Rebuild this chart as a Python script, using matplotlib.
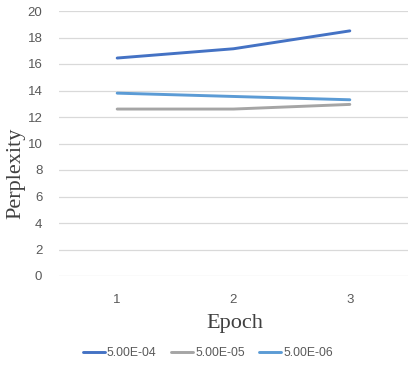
import matplotlib
matplotlib.use("Agg")
import matplotlib.pyplot as plt
import numpy as np

epochs = [1, 2, 3]
lr_5e4 = [16.45, 17.15, 18.5]
lr_5e5 = [12.6, 12.6, 12.95]
lr_5e6 = [13.8, 13.55, 13.3]
labels = ["5.00E-04", "5.00E-05", "5.00E-06"]
colors = ["#4472C4", "#A5A5A5", "#5B9BD5"]


def main():
    fig = plt.figure(figsize=(4.08, 3.66), dpi=100)
    ax = fig.add_axes([59 / 408, 1 - 276 / 366, 1 - 59 / 408, 265 / 366])

    for ys, lab, c in zip([lr_5e4, lr_5e5, lr_5e6], labels, colors):
        ax.plot(epochs, ys, color=c, lw=2.1, label=lab, solid_capstyle="round")

    ax.set_ylim(0, 20)
    ax.set_xlim(0.5, 3.5)
    ax.set_yticks(np.arange(0, 21, 2))
    ax.set_xticks(epochs)
    ax.grid(axis="y", color="#D9D9D9", lw=0.9)
    ax.set_axisbelow(True)
    for s in ax.spines.values():
        s.set_visible(False)
    ax.tick_params(length=0, colors="#595959", labelsize=9.5, pad=12)
    ax.tick_params(axis="x", pad=13)
    for t in ax.get_xticklabels() + ax.get_yticklabels():
        t.set_family("Liberation Sans")

    ax.set_ylabel("Perplexity", family="Liberation Serif", fontsize=16,
                  color="#404040")
    ax.yaxis.set_label_coords(-0.096, 0.387)
    ax.set_xlabel("Epoch", family="Liberation Serif", fontsize=16,
                  color="#404040")
    ax.xaxis.set_label_coords(0.503, -0.142)

    leg = fig.legend(loc="center", bbox_to_anchor=(208 / 408, 1 - 353 / 366),
                     ncol=3, frameon=False, fontsize=8.8, handlelength=1.8,
                     handletextpad=0.15, columnspacing=1.2)
    for t in leg.get_texts():
        t.set_color("#595959")
        t.set_family("Liberation Sans")

    plt.savefig("out.png", dpi=100)


if __name__ == "__main__":
    main()
